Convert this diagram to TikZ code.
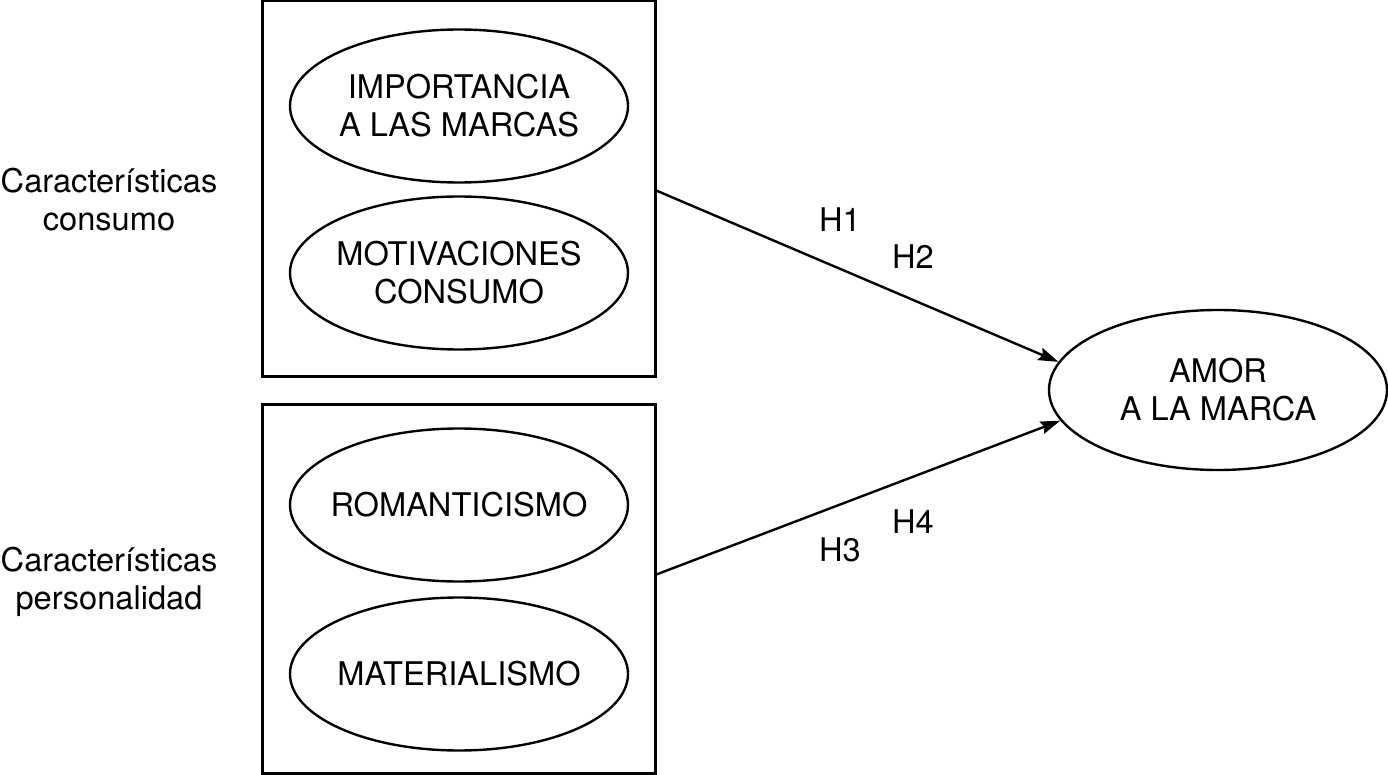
\documentclass[tikz,border=0pt]{standalone}
\usepackage{fontspec}
\setmainfont{TeX Gyre Heros}
\usetikzlibrary{arrows.meta, shapes.geometric, positioning, calc}

\begin{document}
\begin{tikzpicture}[x=0.5pt,y=-0.5pt,
		font=\fontsize{16.3}{19}\selectfont,
		oval/.style={ellipse,draw,line width=1.2pt,inner xsep=-20pt,inner ysep=0pt,align=center,
			minimum width=169pt,minimum height=76.5pt},
		grupo/.style={draw,line width=1.5pt,inner sep=0pt,minimum width=196.5pt},
		flecha/.style={line width=1.2pt,-{Stealth[length=10pt,width=6.5pt,inset=1.5pt]}}]
	\useasboundingbox (0,0) rectangle (1388,775);
	% grupos de variables
	\node[grupo,minimum height=188pt] (consumo) at (458.5,189) {};
	\node[grupo,minimum height=184pt] (perso) at (458.5,589) {};
	\node[align=center] (lblcons) at (109,200) {Características\\consumo};
	\node[align=center] (lblpers) at (109,582) {Características\\personalidad};
	% constructos
	\node[oval] (marcas) at (459,106) {IMPORTANCIA\\A LAS MARCAS};
	\node[oval] (motiv) at (459,273) {MOTIVACIONES\\CONSUMO};
	\node[oval] (roman) at (459,505) {ROMANTICISMO};
	\node[oval] (mater) at (459,674) {MATERIALISMO};
	\node[oval,minimum height=80pt] (amor) at (1218,390) {AMOR\\A LA MARCA};
	% hipotesis
	\coordinate (salcons) at (655,190);
	\coordinate (salpers) at (655,575);
	\draw[flecha] (salcons) -- (amor.170);
	\draw[flecha] (salpers) -- (amor.191);
	\node (h1) at (840,220) {H1};
	\node (h2) at (913,257) {H2};
	\node (h4) at (913,522) {H4};
	\node (h3) at (840,550) {H3};
\end{tikzpicture}
\end{document}
